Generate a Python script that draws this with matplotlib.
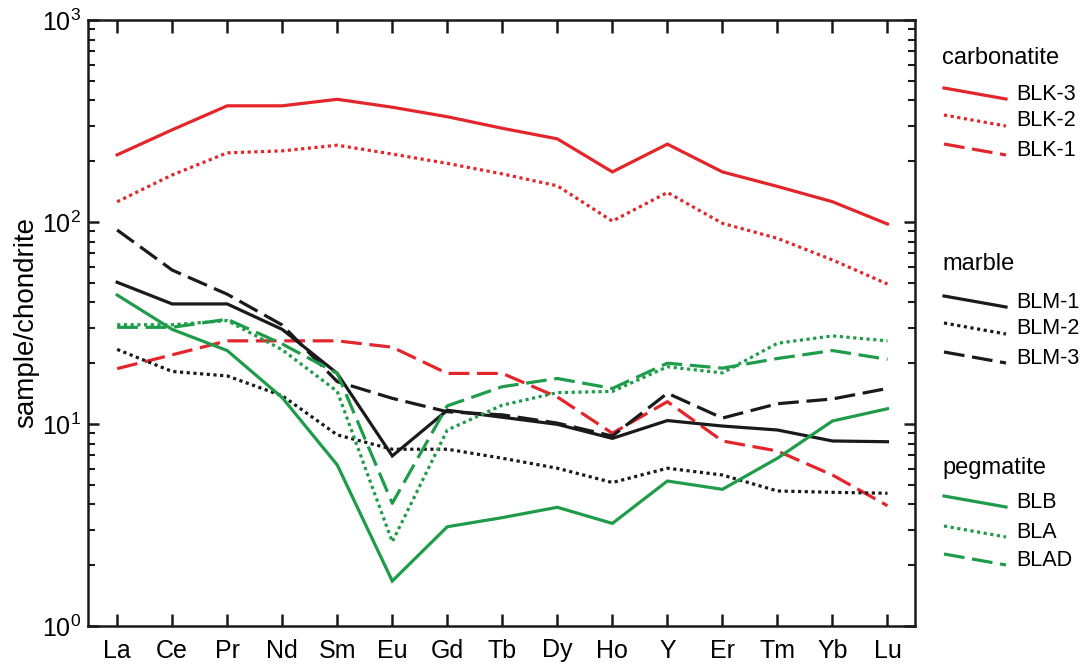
import numpy as np
import matplotlib
matplotlib.use('Agg')
import matplotlib.pyplot as plt
from matplotlib.lines import Line2D
from matplotlib.ticker import LogLocator, FuncFormatter, NullFormatter

plt.rcParams['font.family'] = ['Liberation Sans', 'DejaVu Sans']
plt.rcParams['mathtext.default'] = 'regular'

# REE order (chondrite normalised)
ree = ['La', 'Ce', 'Pr', 'Nd', 'Sm', 'Eu', 'Gd', 'Tb', 'Dy', 'Ho', 'Y', 'Er', 'Tm', 'Yb', 'Lu']

# carbonatite
blk3 = [215, 286, 376, 376, 405, 370, 332, 291, 258, 177, 243, 177, 150, 126, 97.7]
blk2 = [126, 171, 220, 225, 240, 217, 195, 173, 151, 101, 140, 98.5, 83, 64.9, 49.3]
blk1 = [18.8, 22.0, 25.8, 25.8, 25.8, 24.0, 17.8, 17.8, 13.6, 9.0, 12.9, 8.24, 7.35, 5.59, 3.94]
# marble
blm1 = [50.3, 39.3, 39.3, 29.4, 17.8, 6.95, 11.7, 10.8, 9.96, 8.49, 10.4, 9.77, 9.34, 8.24, 8.17]
blm2 = [23.4, 18.2, 17.3, 13.8, 8.83, 7.50, 7.50, 6.77, 6.04, 5.13, 6.04, 5.59, 4.66, 4.59, 4.54]
blm3 = [91.3, 57.8, 43.9, 30.9, 16.2, 13.4, 11.5, 11.1, 10.1, 8.72, 14.2, 10.7, 12.6, 13.3, 15.0]
# pegmatite
blb = [43.5, 29.4, 23.1, 13.5, 6.27, 1.67, 3.10, 3.44, 3.87, 3.22, 5.22, 4.75, 6.77, 10.35, 11.9]
bla = [31.0, 31.0, 32.5, 23.3, 14.5, 2.61, 9.34, 12.4, 14.3, 14.5, 19.2, 17.9, 25.1, 27.3, 25.8]
blad = [30.1, 30.1, 33.0, 24.9, 17.8, 4.05, 12.3, 15.3, 16.8, 15.0, 20.0, 18.9, 21.1, 23.1, 20.9]

red = '#e2262b'
black = '#1a1a1a'
green = '#1f9c4a'
solid = '-'
dotted = (0, (1, 1.1))
dashed = (0, (6.5, 2.4))

groups = [
    ('carbonatite', [('BLK-3', blk3, red, solid), ('BLK-2', blk2, red, dotted), ('BLK-1', blk1, red, dashed)]),
    ('marble', [('BLM-1', blm1, black, solid), ('BLM-2', blm2, black, dotted), ('BLM-3', blm3, black, dashed)]),
    ('pegmatite', [('BLB', blb, green, solid), ('BLA', bla, green, dotted), ('BLAD', blad, green, dashed)]),
]

W, H = 1080, 667
fig = plt.figure(figsize=(W / 100, H / 100), dpi=100)
ax = fig.add_axes([88 / W, (H - 626) / H, (915 - 88) / W, (626 - 20) / H])

x = np.arange(len(ree))
lw = 2.3
for title, rows in groups:
    for name, vals, col, ls in rows:
        ax.plot(x, vals, color=col, linestyle=ls, lw=lw, solid_joinstyle='miter')

ax.set_yscale('log')
ax.set_ylim(1, 1000)
ax.set_xlim(-0.53, 14.5)
ax.set_xticks(x)
ax.set_xticklabels(ree)
ax.yaxis.set_major_locator(LogLocator(base=10, numticks=5))
ax.yaxis.set_minor_locator(LogLocator(base=10, subs=np.arange(2, 10), numticks=20))
ax.yaxis.set_major_formatter(FuncFormatter(lambda v, p: '$10^{%d}$' % int(round(np.log10(v)))))
ax.yaxis.set_minor_formatter(NullFormatter())

for s in ax.spines.values():
    s.set_linewidth(1.8)
    s.set_color(black)
ax.tick_params(axis='x', which='major', direction='in', top=True, bottom=True,
               length=9, width=1.8, labelsize=18, pad=9, color=black)
ax.tick_params(axis='y', which='major', direction='in', left=True, right=True,
               length=8, width=1.8, labelsize=18, pad=5, color=black)
ax.tick_params(axis='y', which='minor', direction='in', left=True, right=True,
               length=5, width=1.5, color=black)
ax.set_ylabel('sample/chondrite', fontsize=20, labelpad=2)

# legend by hand: group titles and slanted keys
title_y = [58, 264, 468]
key_y = [[88, 115, 144], [296, 323, 352], [496, 526, 554]]
for (title, rows), ty, kys in zip(groups, title_y, key_y):
    fig.text(942 / W, 1 - ty / H, title, fontsize=17, va='center', ha='left')
    for (name, vals, col, ls), ky in zip(rows, kys):
        fig.add_artist(Line2D([944 / W, 1006 / W], [1 - ky / H, 1 - (ky + 11) / H],
                              transform=fig.transFigure, color=col, linestyle=ls, lw=lw))
        fig.text(1016 / W, 1 - (ky + 6) / H, name, fontsize=15.5, va='center', ha='left')

plt.savefig('out.png', dpi=100)
